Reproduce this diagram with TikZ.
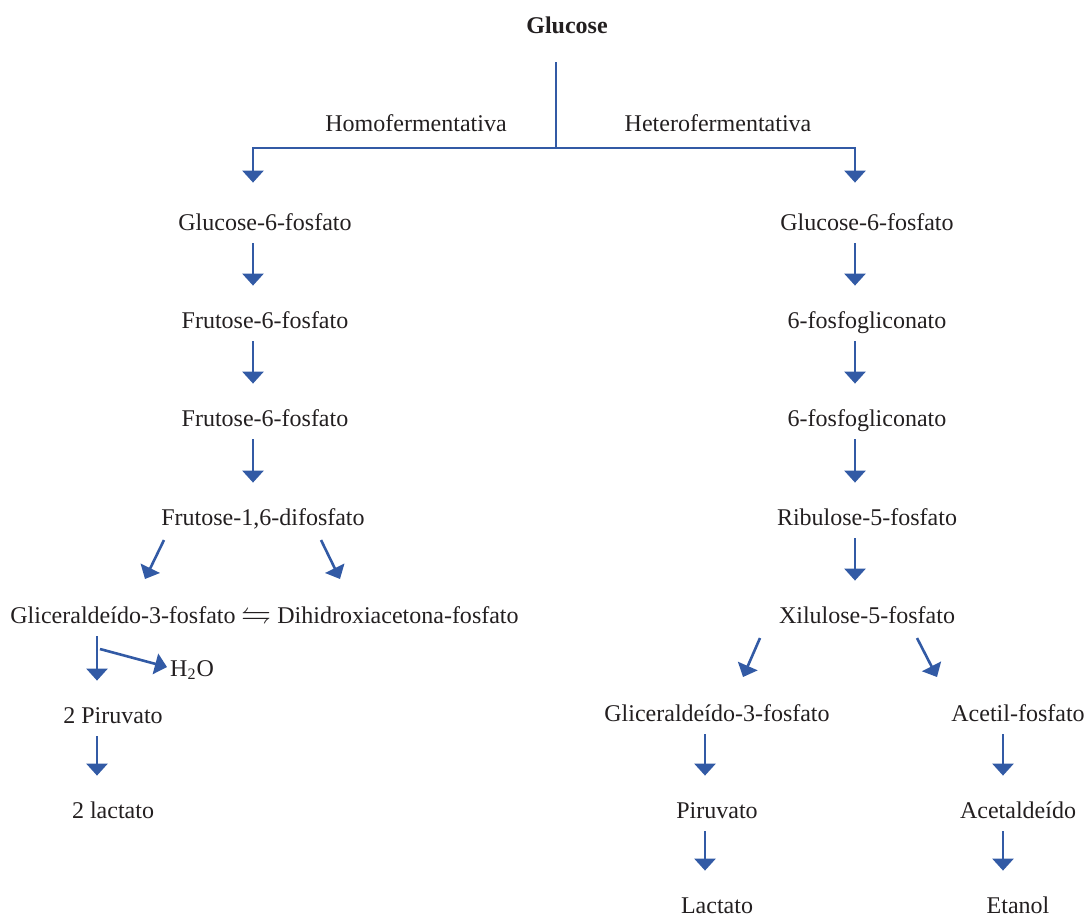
\documentclass[tikz,border=0pt]{standalone}
\usepackage{fontspec}
\setmainfont{Liberation Serif}
\usepackage{amssymb}
\usetikzlibrary{arrows.meta}
\definecolor{azul}{RGB}{50,90,165}
\definecolor{texto}{RGB}{35,31,32}

\begin{document}
\begin{tikzpicture}[x=0.5pt,y=-0.5pt,font=\fontsize{12}{14}\selectfont,
  every node/.style={inner sep=0pt,text height=8pt,text depth=0pt,text=texto},
  linha/.style={draw=azul,line width=1.3pt},
  ponta/.style={linha,-{Triangle[width=10.5pt,length=6pt]}},
  seta/.style={ponta,shorten <=6.5pt,shorten >=13pt}]

\useasboundingbox (0,0) rectangle (1086,918);

\node (glu) at (567,25) {\bfseries Glucose};
\node (homo) at (416,123) {Homofermentativa};
\node (hetero) at (718,123) {Heterofermentativa};
\coordinate (split) at (556,148);

% homofermentativa
\node (g6l) at (265,222) {Glucose-6-fosfato};
\node (f6a) at (265,320) {Frutose-6-fosfato};
\node (f6b) at (265,418) {Frutose-6-fosfato};
\node (fdp) at (263,517) {Frutose-1,6-difosfato};
\node (gal) at (123,615) {Gliceraldeído-3-fosfato};
\node (eq) at (256,615) {\fontsize{15}{15}\selectfont$\leftrightharpoons$};
\node (dha) at (398,615) {Dihidroxiacetona-fosfato};
\node (h2o) at (192,668) {H\textsubscript{2}O};
\node (pir2) at (113,715) {2 Piruvato};
\node (lac2) at (113,810) {2 lactato};

% heterofermentativa
\node (g6r) at (867,222) {Glucose-6-fosfato};
\node (fga) at (867,320) {6-fosfogliconato};
\node (fgb) at (867,418) {6-fosfogliconato};
\node (rib) at (867,517) {Ribulose-5-fosfato};
\node (xil) at (867,615) {Xilulose-5-fosfato};
\node (gar) at (717,713) {Gliceraldeído-3-fosfato};
\node (acf) at (1018,713) {Acetil-fosfato};
\node (pir) at (717,810) {Piruvato};
\node (acd) at (1018,810) {Acetaldeído};
\node (lac) at (717,905) {Lactato};
\node (eta) at (1018,905) {Etanol};

\draw[linha,shorten <=14.5pt] (split |- glu.south) -- (split);
\draw[ponta,shorten >=15.5pt] (split) -| ([xshift=-6pt]g6l.north);
\draw[ponta,shorten >=15.5pt] (split) -| ([xshift=-6pt]g6r.north);

\foreach \a/\b/\s in {g6l/f6a/-6pt,f6a/f6b/-6pt,f6b/fdp/-5pt,gal/pir2/-8pt,pir2/lac2/-8pt,
  g6r/fga/-6pt,fga/fgb/-6pt,fgb/rib/-6pt,rib/xil/-6pt,gar/pir/-6pt,pir/lac/-6pt,
  acf/acd/-7.5pt,acd/eta/-7.5pt}{
\draw[seta] ([xshift=\s]\b.north |- \a.south) -- ([xshift=\s]\b.north);}

\draw[ponta] ([shift={(-99,23)}]fdp.center) -- ([shift={(22,-36)}]gal.center);
\draw[ponta] ([shift={(58,23)}]fdp.center) -- ([shift={(-58,-36)}]dha.center);
\draw[ponta] ([shift={(-23,34)}]gal.center) -- ([shift={(-25,-1)}]h2o.center);
\draw[ponta] ([shift={(-107,23)}]xil.center) -- ([shift={(26,-36)}]gar.center);
\draw[ponta] ([shift={(50,23)}]xil.center) -- ([shift={(-81,-36)}]acf.center);

\end{tikzpicture}
\end{document}
